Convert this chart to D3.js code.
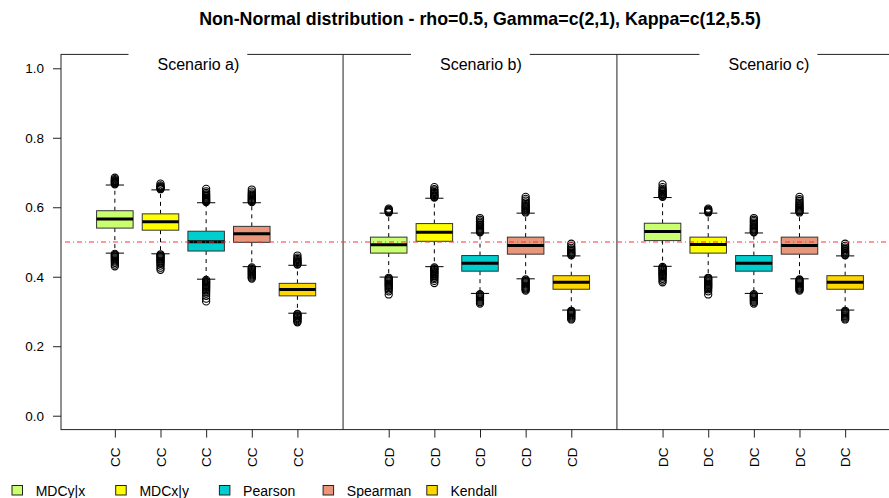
<!DOCTYPE html>
<html>
<head>
<meta charset="utf-8">
<script src="https://cdn.jsdelivr.net/npm/d3@7"></script>
<style>
  html, body { margin: 0; padding: 0; background: #fff; }
  svg { display: block; font-family: "Liberation Sans", Arial, Helvetica, sans-serif; }
  .axis text { font-family: "Liberation Sans", Arial, Helvetica, sans-serif; font-size: 13.5px; fill: #000; }
</style>
</head>
<body>
<svg id="chart" width="889" height="498"></svg>
<script>
// ---- Labels ----
const titleText = "Non-Normal distribution - rho=0.5, Gamma=c(2,1), Kappa=c(12,5.5)";
const scenarios = ["Scenario a)", "Scenario b)", "Scenario c)"];
const groupLabels = ["CC", "CD", "DC"];
const methods = ["MDCy|x", "MDCx|y", "Pearson", "Spearman", "Kendall"];
const methodColors = ["#CAFF70", "#FFFF00", "#00CDCD", "#E9967A", "#FFD700"];
const yTicks = [0, 0.2, 0.4, 0.6, 0.8, 1.0];
const referenceValue = 0.5;

// ---- Box statistics: one row per scenario, one entry per method ----
const whiskerLow = [
  [0.468, 0.466, 0.393, 0.429, 0.295],
  [0.399, 0.429, 0.352, 0.394, 0.304],
  [0.430, 0.399, 0.352, 0.394, 0.304]
];
const lowerQuartile = [
  [0.540, 0.534, 0.474, 0.499, 0.345],
  [0.468, 0.502, 0.416, 0.465, 0.364],
  [0.504, 0.468, 0.416, 0.465, 0.364]
];
const medians = [
  [0.566, 0.558, 0.501, 0.524, 0.363],
  [0.492, 0.528, 0.439, 0.490, 0.384],
  [0.530, 0.493, 0.439, 0.490, 0.384]
];
const upperQuartile = [
  [0.590, 0.581, 0.531, 0.545, 0.381],
  [0.514, 0.553, 0.461, 0.514, 0.403],
  [0.554, 0.514, 0.461, 0.514, 0.403]
];
const whiskerHigh = [
  [0.664, 0.650, 0.613, 0.613, 0.433],
  [0.583, 0.626, 0.526, 0.583, 0.460],
  [0.628, 0.583, 0.526, 0.583, 0.460]
];

// ---- Outlying estimates above the upper whisker ----
const outliersHigh = [
  [
    [0.666, 0.668, 0.670, 0.672, 0.674, 0.676, 0.678, 0.681, 0.685],
    [0.652, 0.654, 0.656, 0.658, 0.660, 0.663, 0.668],
    [0.615, 0.618, 0.620, 0.623, 0.625, 0.628, 0.631, 0.634, 0.637, 0.641, 0.646, 0.653],
    [0.615, 0.618, 0.621, 0.624, 0.627, 0.630, 0.633, 0.636, 0.640, 0.645, 0.651],
    [0.435, 0.437, 0.440, 0.442, 0.445, 0.448, 0.451, 0.455, 0.461]
  ],
  [
    [0.585, 0.587, 0.589, 0.591, 0.593, 0.596],
    [0.628, 0.630, 0.633, 0.635, 0.638, 0.641, 0.644, 0.648, 0.652, 0.658],
    [0.528, 0.531, 0.533, 0.536, 0.539, 0.542, 0.545, 0.548, 0.551, 0.555, 0.559, 0.564, 0.569],
    [0.585, 0.588, 0.591, 0.594, 0.597, 0.600, 0.603, 0.606, 0.610, 0.614, 0.619, 0.624, 0.630],
    [0.462, 0.465, 0.467, 0.470, 0.473, 0.476, 0.479, 0.483, 0.488, 0.495]
  ],
  [
    [0.630, 0.632, 0.635, 0.637, 0.640, 0.643, 0.646, 0.649, 0.653, 0.658, 0.666],
    [0.585, 0.587, 0.589, 0.591, 0.593, 0.596],
    [0.528, 0.530, 0.533, 0.536, 0.539, 0.542, 0.545, 0.548, 0.552, 0.556, 0.560, 0.564, 0.569],
    [0.585, 0.588, 0.590, 0.593, 0.596, 0.599, 0.602, 0.606, 0.609, 0.613, 0.618, 0.623, 0.630],
    [0.462, 0.464, 0.467, 0.470, 0.473, 0.476, 0.480, 0.484, 0.489, 0.495]
  ]
];

// ---- Outlying estimates below the lower whisker ----
const outliersLow = [
  [
    [0.466, 0.463, 0.461, 0.458, 0.456, 0.453, 0.450, 0.447, 0.444, 0.440, 0.435, 0.430],
    [0.464, 0.461, 0.459, 0.456, 0.453, 0.450, 0.447, 0.444, 0.441, 0.437, 0.432, 0.426, 0.420],
    [0.391, 0.388, 0.385, 0.383, 0.380, 0.377, 0.374, 0.371, 0.368, 0.365, 0.361, 0.357, 0.352, 0.345, 0.337, 0.329],
    [0.427, 0.424, 0.422, 0.419, 0.416, 0.413, 0.410, 0.407, 0.404, 0.401, 0.398, 0.395],
    [0.293, 0.291, 0.288, 0.286, 0.283, 0.281, 0.278, 0.275, 0.272, 0.269]
  ],
  [
    [0.397, 0.394, 0.392, 0.389, 0.386, 0.383, 0.380, 0.377, 0.374, 0.371, 0.367, 0.363, 0.358, 0.349],
    [0.427, 0.424, 0.422, 0.419, 0.416, 0.413, 0.410, 0.407, 0.404, 0.401, 0.397, 0.393, 0.388, 0.382],
    [0.350, 0.348, 0.345, 0.343, 0.340, 0.337, 0.334, 0.331, 0.327, 0.323],
    [0.392, 0.389, 0.387, 0.384, 0.381, 0.378, 0.375, 0.372, 0.369, 0.366, 0.363, 0.360],
    [0.302, 0.300, 0.297, 0.295, 0.292, 0.289, 0.286, 0.283, 0.280, 0.277]
  ],
  [
    [0.428, 0.425, 0.423, 0.420, 0.417, 0.414, 0.411, 0.408, 0.405, 0.402, 0.398, 0.394, 0.389, 0.384],
    [0.397, 0.395, 0.392, 0.389, 0.386, 0.383, 0.380, 0.377, 0.374, 0.371, 0.368, 0.364, 0.358, 0.349],
    [0.350, 0.347, 0.345, 0.342, 0.340, 0.337, 0.334, 0.331, 0.327, 0.323],
    [0.392, 0.390, 0.387, 0.384, 0.381, 0.378, 0.375, 0.372, 0.369, 0.366, 0.363, 0.360],
    [0.302, 0.299, 0.297, 0.294, 0.291, 0.288, 0.286, 0.283, 0.280, 0.277]
  ]
];

// ---- Layout ----
const W = 889, H = 498;
const boxWidth = 0.8;          // in slot units
const capWidth = 0.4;
const slotsPerScenario = 6;    // five boxes plus a separating slot
const scenarioLabelX = [2.83, 9.02, 15.33];  // label centres in slot units

const x = d3.scaleLinear().domain([-0.18, 18.18]).range([61, 899]);
const y = d3.scaleLinear().domain([-0.04, 1.04]).range([429.6, 54.4]);
const slot = (s, m) => 1 + slotsPerScenario * s + m;

const svg = d3.select("#chart");
svg.append("rect").attr("width", W).attr("height", H).attr("fill", "#fff");

// Title
svg.append("text")
  .attr("x", (x.range()[0] + x.range()[1]) / 2)
  .attr("y", 25)
  .attr("text-anchor", "middle")
  .attr("font-weight", "bold")
  .style("font-size", "17.8px")
  .attr("fill", "#000")
  .text(titleText);

// Plot frame
svg.append("rect")
  .attr("x", x.range()[0]).attr("y", y.range()[1])
  .attr("width", x.range()[1] - x.range()[0])
  .attr("height", y.range()[0] - y.range()[1])
  .attr("fill", "none").attr("stroke", "#222").attr("stroke-width", 1);

// Y axis
const yAxis = svg.append("g")
  .attr("class", "axis")
  .attr("transform", `translate(${x.range()[0]},0)`)
  .call(d3.axisLeft(y).tickValues(yTicks).tickFormat(d3.format(".1f")).tickSize(8).tickPadding(9));
yAxis.attr("font-family", null).attr("font-size", null);
yAxis.select(".domain").remove();
yAxis.selectAll("line").attr("stroke", "#222");

// X axis
const positions = [], posLabels = [];
scenarios.forEach((sc, s) => methods.forEach((m, j) => {
  positions.push(slot(s, j));
  posLabels.push(groupLabels[s]);
}));
const xAxis = svg.append("g")
  .attr("class", "axis")
  .attr("transform", `translate(0,${y.range()[0]})`)
  .call(d3.axisBottom(x).tickValues(positions)
    .tickFormat((d, i) => posLabels[i]).tickSize(8));
xAxis.attr("font-family", null).attr("font-size", null);
xAxis.select(".domain").remove();
xAxis.selectAll("line").attr("stroke", "#222");
xAxis.selectAll("text")
  .attr("transform", "rotate(-90)")
  .attr("text-anchor", "end")
  .attr("x", -18).attr("y", 0).attr("dy", "0.35em");

// Boxes
const boxes = [];
scenarios.forEach((sc, s) => methods.forEach((m, j) => {
  boxes.push({
    pos: slot(s, j), color: methodColors[j],
    lo: whiskerLow[s][j], q1: lowerQuartile[s][j], med: medians[s][j],
    q3: upperQuartile[s][j], hi: whiskerHigh[s][j],
    out: outliersHigh[s][j].concat(outliersLow[s][j])
  });
}));

const gBox = svg.append("g").selectAll("g").data(boxes).join("g");

// whiskers
gBox.append("line")
  .attr("x1", d => x(d.pos)).attr("x2", d => x(d.pos))
  .attr("y1", d => y(d.q3)).attr("y2", d => y(d.hi))
  .attr("stroke", "#000").attr("stroke-dasharray", "4,4");
gBox.append("line")
  .attr("x1", d => x(d.pos)).attr("x2", d => x(d.pos))
  .attr("y1", d => y(d.q1)).attr("y2", d => y(d.lo))
  .attr("stroke", "#000").attr("stroke-dasharray", "4,4");
// staples
["hi", "lo"].forEach(k => {
  gBox.append("line")
    .attr("x1", d => x(d.pos - capWidth / 2)).attr("x2", d => x(d.pos + capWidth / 2))
    .attr("y1", d => y(d[k])).attr("y2", d => y(d[k]))
    .attr("stroke", "#000");
});
// box
gBox.append("rect")
  .attr("x", d => x(d.pos - boxWidth / 2))
  .attr("width", d => x(d.pos + boxWidth / 2) - x(d.pos - boxWidth / 2))
  .attr("y", d => y(d.q3))
  .attr("height", d => y(d.q1) - y(d.q3))
  .attr("fill", d => d.color).attr("stroke", "#333").attr("stroke-width", 1);
// median
gBox.append("line")
  .attr("x1", d => x(d.pos - boxWidth / 2)).attr("x2", d => x(d.pos + boxWidth / 2))
  .attr("y1", d => y(d.med)).attr("y2", d => y(d.med))
  .attr("stroke", "#000").attr("stroke-width", 3);
// outliers
gBox.selectAll("circle").data(d => d.out.map(v => ({ pos: d.pos, v }))).join("circle")
  .attr("cx", d => x(d.pos)).attr("cy", d => y(d.v)).attr("r", 3.6)
  .attr("fill", "none").attr("stroke", "#000").attr("stroke-width", 1.1);

// Scenario separators
[slotsPerScenario, 2 * slotsPerScenario].forEach(v => {
  svg.append("line")
    .attr("x1", x(v)).attr("x2", x(v))
    .attr("y1", y.range()[1]).attr("y2", y.range()[0])
    .attr("stroke", "#222");
});

// Reference line at the true correlation
svg.append("line")
  .attr("x1", x.range()[0]).attr("x2", x.range()[1])
  .attr("y1", y(referenceValue)).attr("y2", y(referenceValue))
  .attr("stroke", "#f33").attr("stroke-width", 1.2)
  .attr("stroke-dasharray", "1,3,5,3");

// Scenario labels sitting in the top border
scenarios.forEach((sc, s) => {
  const t = svg.append("text")
    .attr("x", x(scenarioLabelX[s])).attr("y", 70)
    .attr("text-anchor", "middle").style("font-size", "16px").attr("fill", "#000")
    .text(sc);
  const len = t.node().getComputedTextLength();
  const left = x(scenarioLabelX[s]) - len / 2;
  svg.insert("rect", () => t.node())
    .attr("x", left - 29).attr("y", y.range()[1] - 3)
    .attr("width", len + 37).attr("height", 8)
    .attr("fill", "#fff");
});

// Legend along the bottom
const legendStep = 103.7;
const gLeg = svg.append("g").selectAll("g").data(methods).join("g")
  .attr("transform", (d, i) => `translate(${12 + i * legendStep},0)`);
gLeg.append("rect")
  .attr("x", 0).attr("y", 485.5).attr("width", 10.5).attr("height", 9.5)
  .attr("fill", (d, i) => methodColors[i]).attr("stroke", "#222");
gLeg.append("text")
  .attr("x", 23.7).attr("y", 490.5).attr("dominant-baseline", "central")
  .style("font-size", "14px").attr("fill", "#000")
  .text(d => d);
</script>
</body>
</html>
